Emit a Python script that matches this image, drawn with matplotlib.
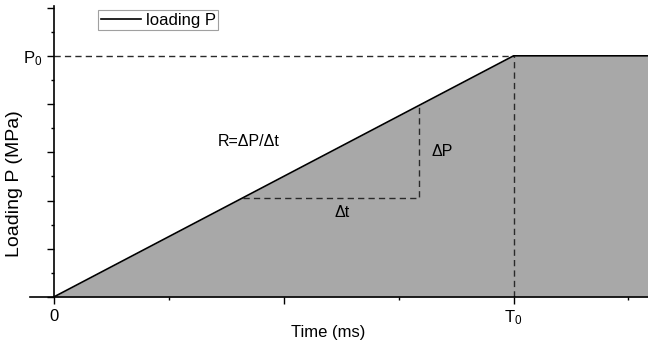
import numpy as np
import matplotlib.pyplot as plt

plt.rcParams['font.family'] = ['Liberation Sans', 'DejaVu Sans']
plt.rcParams['mathtext.default'] = 'regular'

# loading history: linear ramp to P0 at T0, then held constant
t_pts = [0, 4, 5.17]
p_pts = [0, 10, 10]
T0 = 4
P0 = 10
# start/end times of the slope triangle drawn on the ramp
tri_t = [1.65, 3.18]

x_ticks = [0, 2, 4]
x_minor = [1, 3, 5]
x_labels = ['0', '', 'T$_0$']
y_ticks = [0, 2, 4, 6, 8, 10, 12]
y_minor = [1, 3, 5, 7, 9, 11]
y_labels = ['', '', '', '', '', 'P$_0$', '']

W, H = 648, 348
fig = plt.figure(figsize=(W / 100, H / 100), dpi=100)
ax = fig.add_axes([29.6 / W, (H - 297) / H, (W - 29.6) / W, 290.6 / H])

fill_col = '#a8a8a8'
ax.fill_between(t_pts, p_pts, 0, color=fill_col, lw=0, zorder=1)
ax.plot(t_pts, p_pts, color='black', lw=1.2, label='loading P', zorder=3)

# reference lines at P0 and T0
dash = (0, (4.5, 3))
ax.plot([0, T0], [P0, P0], ls=dash, color='#2a2a2a', lw=1.0, zorder=2)
ax.plot([T0, T0], [0, P0], ls=dash, color='#2a2a2a', lw=1.0, zorder=2)

# slope triangle
p_tri = np.interp(tri_t, t_pts, p_pts)
ax.plot([tri_t[0], tri_t[1], tri_t[1]], [p_tri[0], p_tri[0], p_tri[1]],
        ls=dash, color='#2a2a2a', lw=1.0, zorder=2)

ax.text(1.43, 6.45, 'R=ΔP/Δt', fontsize=11.5, va='center', ha='left')
ax.text(3.29, 6.05, 'ΔP', fontsize=11.5, va='center', ha='left')
ax.text(2.51, 3.5, 'Δt', fontsize=11.5, va='center', ha='center')

ax.set_xlim(-0.21, 5.17)
ax.set_ylim(0, 12.05)

for s in ['top', 'right']:
    ax.spines[s].set_visible(False)
ax.spines['left'].set_position(('data', 0))
ax.spines['left'].set_linewidth(1.2)
ax.spines['bottom'].set_linewidth(1.2)

ax.set_xticks(x_ticks)
ax.set_xticklabels(x_labels)
ax.set_xticks(x_minor, minor=True)
ax.set_yticks(y_ticks)
ax.set_yticklabels(y_labels)
ax.set_yticks(y_minor, minor=True)
ax.tick_params(which='major', length=4.8, width=1, direction='out', labelsize=12, pad=3.5)
ax.tick_params(which='minor', length=2.4, width=1, direction='out')

ax.set_xlabel('Time (ms)', fontsize=12)
ax.xaxis.set_label_coords((328 - 29.6) / 618.4, -0.095)
ax.set_ylabel('Loading P (MPa)', fontsize=14)
ax.yaxis.set_label_coords(-0.011, 0.39)

leg = ax.legend(loc='upper left', bbox_to_anchor=(98 / W, 1 - 10 / H),
                bbox_transform=fig.transFigure, fontsize=12, frameon=True,
                fancybox=False, handlelength=2.45, handletextpad=0.25,
                borderpad=0.15, borderaxespad=0)
leg.get_frame().set_edgecolor('#888888')
leg.get_frame().set_linewidth(0.8)

fig.savefig('out.png', dpi=100)
